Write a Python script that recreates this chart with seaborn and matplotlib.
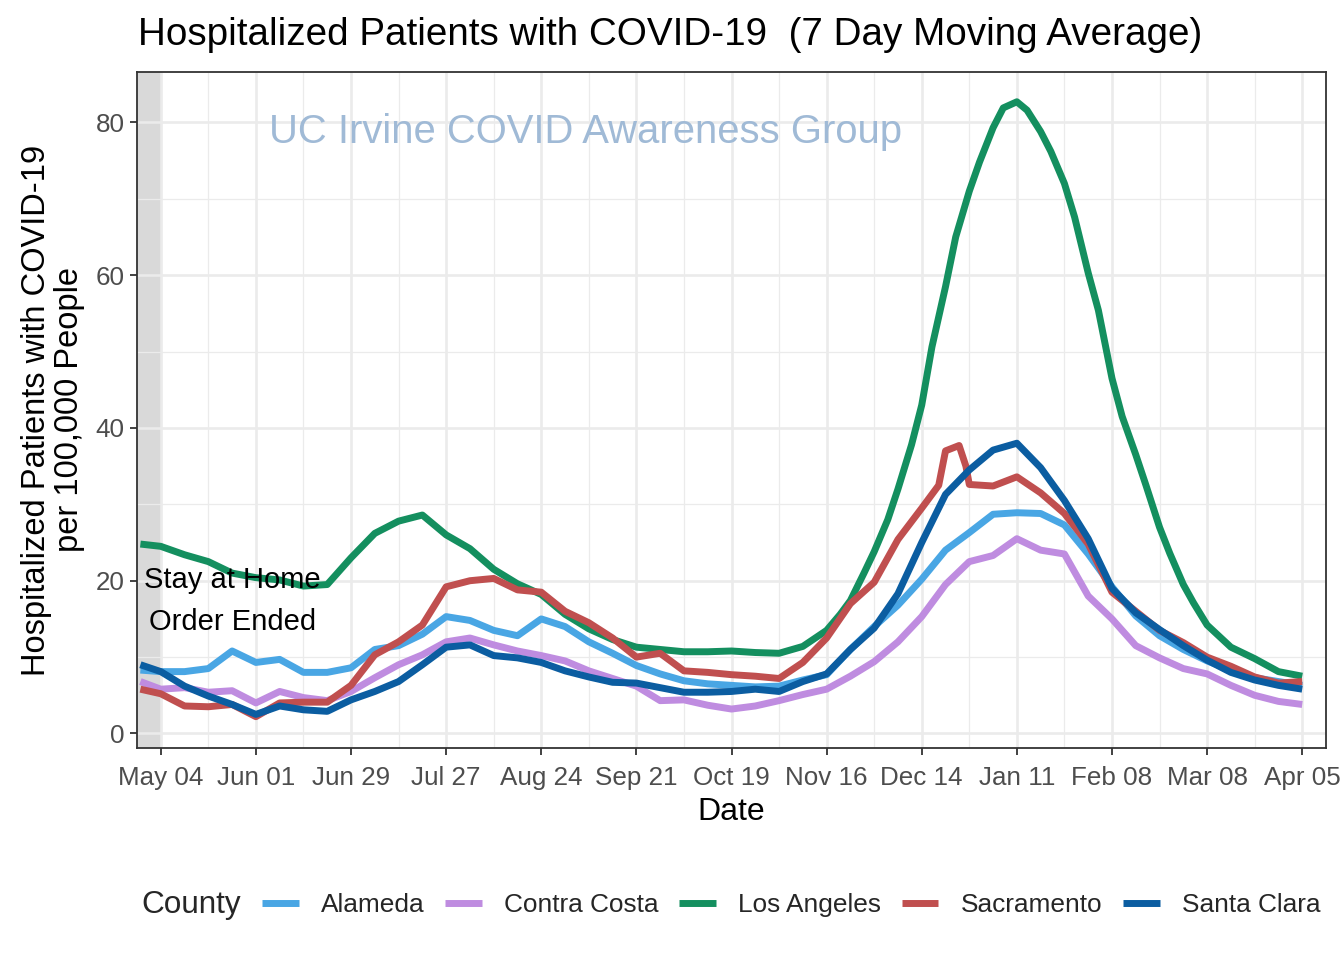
import matplotlib
matplotlib.use("Agg")
import matplotlib.pyplot as plt
import numpy as np
import pandas as pd
import seaborn as sns

# ---------------- data ----------------
counties = ["Alameda", "Contra Costa", "Los Angeles", "Sacramento", "Santa Clara"]
colors = ["#49A6E4", "#BF8CE0", "#148F5F", "#C04F4F", "#0B5DA1"]

dates = [pd.Timestamp("2020-04-28")] + list(pd.date_range("2020-05-04", "2021-04-05", freq="7D"))

alameda = [8.3, 8.1, 8.1, 8.5, 10.8, 9.3, 9.7, 8.0, 8.0, 8.6,
           11.0, 11.5, 13.0, 15.3, 14.8, 13.5, 12.8, 15.0, 14.0, 12.0,
           10.5, 8.9, 7.8, 6.9, 6.5, 6.3, 6.1, 6.2, 7.0, 7.7,
           11.0, 14.0, 16.8, 20.2, 24.0, 26.3, 28.7, 28.9, 28.8, 27.3,
           23.5, 19.2, 15.4, 12.8, 11.0, 9.5, 8.3, 7.3, 6.8, 6.3]
contra_costa = [6.8, 5.8, 6.0, 5.4, 5.6, 4.0, 5.5, 4.7, 4.3, 5.5,
                7.3, 9.0, 10.3, 12.0, 12.5, 11.6, 10.8, 10.2, 9.5, 8.2,
                7.2, 6.2, 4.3, 4.4, 3.7, 3.2, 3.6, 4.3, 5.1, 5.8,
                7.5, 9.4, 12.0, 15.3, 19.5, 22.5, 23.3, 25.5, 24.0, 23.5,
                18.0, 15.0, 11.5, 9.9, 8.5, 7.8, 6.3, 5.0, 4.2, 3.8]
los_angeles = [24.8, 24.5, 23.4, 22.5, 21.0, 20.4, 20.1, 19.3, 19.5, 23.0,
               26.2, 27.8, 28.6, 26.0, 24.2, 21.5, 19.6, 18.2, 15.6, 13.7,
               12.3, 11.3, 11.0, 10.7, 10.7, 10.8, 10.6, 10.5, 11.4, 13.5,
               17.4, 23.8, 32.0, 43.0, 58.5, 71.0, 79.3, 82.7, 78.8, 72.0,
               60.3, 46.5, 36.5, 27.0, 19.5, 14.2, 11.3, 9.8, 8.1, 7.5]
sacramento = [5.8, 5.2, 3.6, 3.5, 3.8, 2.2, 4.0, 4.1, 4.1, 6.3,
              10.3, 12.0, 14.2, 19.2, 20.0, 20.3, 18.8, 18.5, 16.0, 14.5,
              12.5, 10.0, 10.5, 8.2, 8.0, 7.7, 7.5, 7.2, 9.3, 12.5,
              17.0, 19.8, 25.4, 29.5, 37.0, 32.6, 32.4, 33.6, 31.5, 28.8,
              24.8, 18.5, 16.0, 13.5, 11.9, 10.0, 8.8, 7.4, 6.6, 6.8]
santa_clara = [9.0, 8.1, 6.2, 4.9, 3.8, 2.5, 3.6, 3.1, 2.9, 4.4,
               5.5, 6.8, 9.0, 11.3, 11.6, 10.2, 9.9, 9.3, 8.2, 7.4,
               6.7, 6.6, 6.0, 5.4, 5.4, 5.5, 5.8, 5.5, 6.8, 7.8,
               11.0, 13.8, 18.3, 25.0, 31.3, 34.5, 37.1, 38.0, 34.8, 30.5,
               25.5, 19.0, 15.8, 13.6, 11.5, 9.6, 8.0, 7.0, 6.3, 5.8]

# extra mid-week readings where the curves bend sharply
sac_extra_dates = ["2020-12-19", "2020-12-25", "2020-12-27"]
sac_extra_vals = [32.5, 37.7, 35.0]
la_extra_dates = ["2020-11-20", "2020-11-27", "2020-12-04", "2020-12-11", "2020-12-17",
                  "2020-12-24", "2020-12-31", "2021-01-07", "2021-01-14", "2021-01-21",
                  "2021-01-28", "2021-02-04", "2021-02-11", "2021-02-18", "2021-02-25",
                  "2021-03-04"]
la_extra_vals = [15.6, 21.0, 28.0, 37.8, 50.6, 65.0, 74.8, 81.9, 81.6, 76.2,
                 67.6, 55.4, 41.5, 32.5, 23.6, 17.1]

x_ticks = ["2020-05-04", "2020-06-01", "2020-06-29", "2020-07-27", "2020-08-24",
           "2020-09-21", "2020-10-19", "2020-11-16", "2020-12-14", "2021-01-11",
           "2021-02-08", "2021-03-08", "2021-04-05"]
y_ticks = [0, 20, 40, 60, 80]

title = "Hospitalized Patients with COVID-19  (7 Day Moving Average)"
watermark = "UC Irvine COVID Awareness Group"
annotation = "Stay at Home\nOrder Ended"
order_end = "2020-05-04"

# ---------------- build long table ----------------
series = {"Alameda": alameda, "Contra Costa": contra_costa, "Los Angeles": los_angeles,
          "Sacramento": sacramento, "Santa Clara": santa_clara}
frames = []
for name, vals in series.items():
    frames.append(pd.DataFrame({"Date": dates, "value": vals, "County": name}))
frames.append(pd.DataFrame({"Date": pd.to_datetime(sac_extra_dates), "value": sac_extra_vals,
                            "County": "Sacramento"}))
frames.append(pd.DataFrame({"Date": pd.to_datetime(la_extra_dates), "value": la_extra_vals,
                            "County": "Los Angeles"}))
df = pd.concat(frames, ignore_index=True).sort_values(["County", "Date"])

# ---------------- style ----------------
sns.set_theme(style="white")
plt.rcParams["font.family"] = ["Liberation Sans", "DejaVu Sans"]

W, H = 1344, 960
fig = plt.figure(figsize=(W / 100, H / 100), dpi=100)
L, R, T, B = 137, 1326, 72, 748
ax = fig.add_axes([L / W, 1 - B / H, (R - L) / W, (B - T) / H])

sns.lineplot(data=df, x="Date", y="value", hue="County", hue_order=counties,
             palette=dict(zip(counties, colors)), linewidth=5.0, ax=ax, legend=True,
             estimator=None, sort=False, zorder=3)
for ln in ax.get_lines():
    ln.set_solid_capstyle("butt")
    ln.set_solid_joinstyle("round")

# grey band (before stay at home order ended)
ax.axvspan(pd.Timestamp("2020-04-20"), pd.Timestamp(order_end), color="#D9D9D9", zorder=0.5, lw=0)

ax.set_xlim(pd.Timestamp("2020-04-27"), pd.Timestamp("2021-04-12"))
ax.set_ylim(-1.9, 86.6)

# ticks and grid
tick_dates = pd.to_datetime(x_ticks)
ax.set_xticks(tick_dates)
ax.set_xticklabels([d.strftime("%b %d") for d in tick_dates])
minor_x = [d + pd.Timedelta(days=14) for d in tick_dates[:-1]]
ax.set_xticks(minor_x, minor=True)
ax.set_yticks(y_ticks)
ax.set_yticks([10, 30, 50, 70], minor=True)

ax.grid(which="major", color="#EBEBEB", linewidth=1.9, zorder=0)
ax.grid(which="minor", color="#EBEBEB", linewidth=0.9, zorder=0)
ax.set_axisbelow(True)

ax.tick_params(axis="both", which="major", length=5, width=1.3, color="#333333",
               labelsize=18.7, labelcolor="#4D4D4D")
ax.tick_params(axis="x", which="major", pad=8)
ax.tick_params(axis="y", which="major", pad=4)
ax.tick_params(axis="both", which="minor", length=0)
ax.tick_params(axis="x", bottom=True)
ax.tick_params(axis="y", left=True)

for sp in ax.spines.values():
    sp.set_color("#333333")
    sp.set_linewidth(1.3)

ax.set_xlabel("")
ax.set_ylabel("")

# texts
fig.text(138 / W, 1 - 35 / H, title, fontsize=27.8, ha="left", va="center", color="black")
fig.text(731.5 / W, 1 - 812 / H, "Date", fontsize=23, ha="center", va="center", color="black")
fig.text(53 / W, 1 - 410 / H, "Hospitalized Patients with COVID-19\nper 100,000 People",
         fontsize=23.5, ha="center", va="center", rotation=90, multialignment="center",
         linespacing=1.05, color="black")

ax.text(pd.Timestamp("2020-09-06"), 78.8, watermark, fontsize=28.8, color="#A0BAD6",
        ha="center", va="center", zorder=2)
ax.text(pd.Timestamp("2020-05-25"), 17.3, annotation, fontsize=21, color="black",
        ha="center", va="center", multialignment="center", linespacing=1.65, zorder=4)

# legend
handles, labels = ax.get_legend_handles_labels()
ax.get_legend().remove()
for h in handles:
    h.set_linewidth(5.0)
fig.text(141 / W, 1 - 905 / H, "County", fontsize=22.7, ha="left", va="center")
fig.legend(handles, labels, loc="center left", bbox_to_anchor=(262 / W, 1 - 905 / H),
           ncol=5, frameon=False, fontsize=18.9, handlelength=1.4, handletextpad=0.85,
           columnspacing=0.78, borderpad=0, borderaxespad=0)

fig.savefig("out.png", dpi=100)
